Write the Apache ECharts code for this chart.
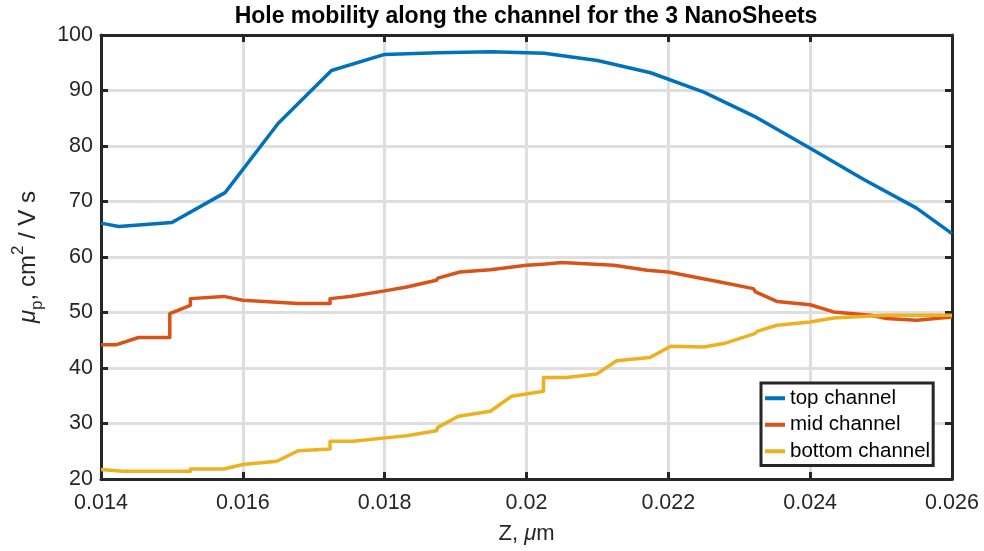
<!DOCTYPE html>
<html>
<head>
<meta charset="utf-8">
<title>Hole mobility along the channel</title>
<script src="https://cdn.jsdelivr.net/npm/echarts@6/dist/echarts.min.js"></script>
<style>
  html, body { margin: 0; padding: 0; background: #ffffff; }
  #chart { width: 984px; height: 551px; }
</style>
</head>
<body>
<div id="chart"></div>
<script>
// Position along the channel (µm) and hole mobility (cm^2/V s) for each nanosheet
const topZ  = [0.014, 0.01425, 0.015, 0.01575, 0.0165, 0.01725, 0.018, 0.01875, 0.0195, 0.02025,
               0.021, 0.02175, 0.0225, 0.02325, 0.024, 0.02475, 0.0255, 0.026];
const topMu = [66.1, 65.5, 66.2, 71.6, 84.1, 93.6, 96.5, 96.8, 97.0, 96.7,
               95.4, 93.2, 89.7, 85.1, 79.6, 74.0, 68.8, 64.2];

const midZ  = [0.014, 0.01422, 0.01453, 0.01497, 0.01497, 0.01526, 0.01526, 0.01573, 0.016, 0.01678,
               0.01723, 0.01723, 0.01751, 0.0180, 0.01831, 0.01873, 0.01875, 0.01906, 0.01949, 0.0200,
               0.02023, 0.0205, 0.02123, 0.0217, 0.022, 0.02273, 0.0232, 0.02323, 0.02353, 0.024,
               0.02433, 0.02485, 0.02508, 0.0255, 0.026];
const midMu = [44.2, 44.2, 45.5, 45.5, 49.8, 51.3, 52.5, 52.9, 52.2, 51.6,
               51.6, 52.5, 52.9, 53.9, 54.6, 55.8, 56.2, 57.3, 57.7, 58.5,
               58.7, 59.0, 58.5, 57.6, 57.3, 55.5, 54.3, 53.7, 52.0, 51.4,
               50.1, 49.5, 48.9, 48.6, 49.2];

const botZ  = [0.014, 0.01431, 0.01526, 0.01526, 0.01573, 0.016, 0.01648, 0.01678, 0.01723, 0.01723,
               0.01756, 0.01808, 0.01831, 0.01873, 0.01875, 0.01904, 0.01949, 0.01979, 0.02024, 0.02024,
               0.02056, 0.02099, 0.02127, 0.02174, 0.02203, 0.0225, 0.02278, 0.02322, 0.02325, 0.02353,
               0.024, 0.02433, 0.02508, 0.026];
const botMu = [21.7, 21.4, 21.4, 21.8, 21.8, 22.6, 23.2, 25.1, 25.4, 26.8,
               26.8, 27.5, 27.8, 28.7, 29.3, 31.3, 32.2, 34.9, 35.8, 38.3,
               38.3, 38.9, 41.3, 41.9, 43.9, 43.8, 44.4, 46.2, 46.6, 47.7,
               48.3, 49.0, 49.5, 49.5];

const seriesNames = ['top channel', 'mid channel', 'bottom channel'];
const seriesColors = ['#0072BD', '#D95319', '#EDB120'];

const xTicks = { min: 0.014, max: 0.026, step: 0.002 };
const yTicks = { min: 20, max: 100, step: 10 };

const FONT = '"Liberation Sans", Arial, Helvetica, sans-serif';
const FRAME = '#262626';

function pairs(xs, ys) { return xs.map((x, i) => [x, ys[i]]); }

const chart = echarts.init(document.getElementById('chart'), null, { renderer: 'canvas' });

function xAxisDef(pos, main) {
  return {
    type: 'value', position: pos,
    min: xTicks.min, max: xTicks.max, interval: xTicks.step,
    axisLine: { show: true, onZero: false, lineStyle: { color: FRAME, width: 3 } },
    axisTick: { show: true, inside: true, length: 7, lineStyle: { color: FRAME, width: 3 } },
    axisLabel: {
      show: main, margin: 13, fontFamily: FONT, fontSize: 21.5, color: FRAME,
      formatter: v => String(parseFloat(v.toFixed(4)))
    },
    splitLine: { show: main, lineStyle: { color: '#dedede', width: 3 } },
    name: main ? '{n|Z, }{i|μ}{n|m}' : '',
    nameLocation: 'middle', nameGap: 44,
    nameTextStyle: {
      rich: {
        n: { fontFamily: FONT, fontSize: 22, color: FRAME },
        i: { fontFamily: FONT, fontSize: 22, color: FRAME, fontStyle: 'italic' }
      }
    }
  };
}

function yAxisDef(pos, main) {
  return {
    type: 'value', position: pos,
    min: yTicks.min, max: yTicks.max, interval: yTicks.step,
    axisLine: { show: true, onZero: false, lineStyle: { color: FRAME, width: 3 } },
    axisTick: { show: true, inside: true, length: 7, lineStyle: { color: FRAME, width: 3 } },
    axisLabel: { show: main, margin: 8, fontFamily: FONT, fontSize: 21.5, color: FRAME },
    splitLine: { show: main, lineStyle: { color: '#dedede', width: 3 } },
    name: main ? '{i|μ}{sub|p}{n|, cm}{sup|2}{n| / V s}' : '',
    nameLocation: 'middle', nameGap: 48, nameRotate: 90,
    nameTextStyle: {
      rich: {
        n: { fontFamily: FONT, fontSize: 24, color: FRAME, lineHeight: 36 },
        i: { fontFamily: FONT, fontSize: 24, color: FRAME, lineHeight: 36, fontStyle: 'italic' },
        sup: { fontFamily: FONT, fontSize: 17, color: FRAME, lineHeight: 17, verticalAlign: 'top' },
        sub: { fontFamily: FONT, fontSize: 17, color: FRAME, lineHeight: 17, verticalAlign: 'bottom' }
      }
    }
  };
}

const option = {
  backgroundColor: '#ffffff',
  animation: false,
  title: {
    text: 'Hole mobility along the channel for the 3 NanoSheets',
    left: 526, top: 5, textAlign: 'center', padding: 0,
    textStyle: { fontFamily: FONT, fontSize: 23, fontWeight: 'bold', color: '#000000' }
  },
  grid: { left: 101, right: 32, top: 35, bottom: 72, containLabel: false },
  xAxis: [xAxisDef('bottom', true), xAxisDef('top', false)],
  yAxis: [yAxisDef('left', true), yAxisDef('right', false)],
  legend: {
    orient: 'vertical', left: 761, top: 383,
    padding: [2, 3, 1, 4], itemGap: 0,
    itemWidth: 20, itemHeight: 4, icon: 'rect',
    backgroundColor: '#ffffff', borderColor: FRAME, borderWidth: 3,
    textStyle: { fontFamily: FONT, fontSize: 20.5, color: '#000000', lineHeight: 26.5 },
    data: seriesNames
  },
  series: [
    { name: seriesNames[0], data: pairs(topZ, topMu) },
    { name: seriesNames[1], data: pairs(midZ, midMu) },
    { name: seriesNames[2], data: pairs(botZ, botMu) }
  ].map((s, i) => Object.assign(s, {
    type: 'line', xAxisIndex: 0, yAxisIndex: 0,
    showSymbol: false, symbol: 'none', smooth: false,
    color: seriesColors[i],
    lineStyle: { color: seriesColors[i], width: 3.5, join: 'round' }
  }))
};

chart.setOption(option);
</script>
</body>
</html>
